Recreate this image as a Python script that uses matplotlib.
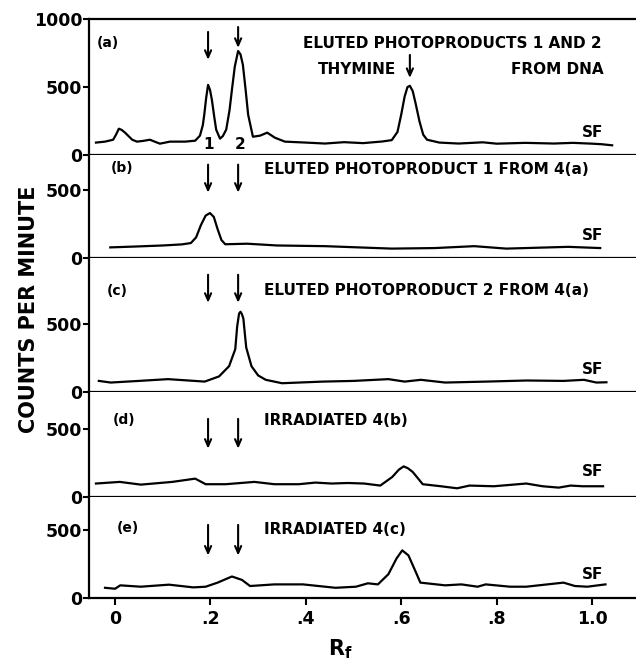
import matplotlib
matplotlib.use("Agg")
import matplotlib.pyplot as plt

# ---------------- data ----------------
rf_a = [-0.040, -0.021, -0.004, 0.002, 0.008, 0.014, 0.021, 0.036, 0.046, 0.060, 0.073, 0.094, 0.115,
        0.147, 0.168, 0.178, 0.184, 0.187, 0.191, 0.195, 0.199, 0.203, 0.208, 0.212, 0.220, 0.226,
        0.233, 0.240, 0.245, 0.251, 0.258, 0.263, 0.268, 0.274, 0.279, 0.289, 0.304, 0.319, 0.335,
        0.356, 0.400, 0.440, 0.480, 0.520, 0.560, 0.580, 0.592, 0.600, 0.607, 0.613, 0.618, 0.624,
        0.630, 0.638, 0.646, 0.654, 0.680, 0.720, 0.771, 0.800, 0.860, 0.920, 0.960, 1.000, 1.020, 1.042]
cpm_a = [92, 99, 113, 150, 194, 185, 165, 113, 99, 105, 113, 84, 99,
         99, 106, 143, 220, 296, 420, 516, 480, 406, 280, 187, 121, 140,
         187, 330, 480, 650, 765, 740, 663, 470, 297, 135, 143, 165, 128,
         99, 92, 85, 95, 88, 100, 110, 170, 300, 430, 500, 509, 470,
         380, 250, 150, 113, 92, 85, 94, 84, 90, 85, 90, 84, 80, 72]

rf_b = [-0.010, 0.040, 0.100, 0.140, 0.159, 0.170, 0.180, 0.190, 0.199, 0.207, 0.215, 0.223, 0.231,
        0.277, 0.340, 0.440, 0.580, 0.670, 0.753, 0.820, 0.900, 0.950, 1.017]
cpm_b = [76, 82, 90, 98, 108, 150, 240, 310, 328, 300, 210, 130, 99,
         103, 90, 85, 67, 71, 85, 67, 75, 80, 71]

rf_c = [-0.034, -0.009, 0.050, 0.111, 0.188, 0.218, 0.239, 0.252, 0.256, 0.260, 0.263, 0.266, 0.269,
        0.272, 0.275, 0.286, 0.300, 0.316, 0.350, 0.436, 0.500, 0.573, 0.607, 0.641, 0.692,
        0.778, 0.863, 0.940, 0.983, 1.009, 1.030]
cpm_c = [80, 68, 80, 93, 75, 113, 188, 313, 480, 575, 588, 570, 538,
         430, 325, 188, 120, 88, 63, 75, 80, 93, 75, 88, 68,
         75, 83, 80, 88, 68, 70]

rf_d = [-0.040, 0.010, 0.054, 0.120, 0.168, 0.190, 0.232, 0.292, 0.334, 0.385, 0.420, 0.454, 0.488,
        0.522, 0.556, 0.581, 0.595, 0.605, 0.614, 0.624, 0.645, 0.683, 0.717, 0.743, 0.794,
        0.862, 0.896, 0.930, 0.955, 0.980, 1.023]
cpm_d = [98, 110, 90, 110, 134, 93, 93, 110, 93, 93, 105, 98, 102,
         98, 83, 146, 200, 224, 210, 183, 93, 78, 63, 83, 78,
         98, 78, 68, 83, 78, 78]

rf_e = [-0.021, 0.000, 0.011, 0.054, 0.113, 0.164, 0.190, 0.215, 0.245, 0.266, 0.283, 0.334, 0.394,
        0.462, 0.505, 0.530, 0.551, 0.573, 0.590, 0.602, 0.615, 0.628, 0.640, 0.692, 0.726,
        0.760, 0.777, 0.828, 0.862, 0.940, 0.964, 0.990, 1.028]
cpm_e = [75, 68, 93, 83, 98, 78, 83, 113, 158, 133, 88, 100, 100,
         75, 83, 108, 100, 175, 290, 350, 313, 210, 113, 93, 100,
         83, 100, 83, 83, 113, 88, 83, 100]

panel_tags = ["(a)", "(b)", "(c)", "(d)", "(e)"]
panel_titles = ["ELUTED PHOTOPRODUCTS 1 AND 2", "ELUTED PHOTOPRODUCT 1 FROM 4(a)",
                "ELUTED PHOTOPRODUCT 2 FROM 4(a)", "IRRADIATED 4(b)", "IRRADIATED 4(c)"]
panel_tops = [1000, 754, 985, 772, 743]
arrow_rf = [0.195, 0.258]
xtick_vals = [0, 0.2, 0.4, 0.6, 0.8, 1.0]
xtick_labels = ["0", ".2", ".4", ".6", ".8", "1.0"]

series = [(rf_a, cpm_a), (rf_b, cpm_b), (rf_c, cpm_c), (rf_d, cpm_d), (rf_e, cpm_e)]

# arrow extents per panel (top, tip) in counts
arrow_spans = [[(905, 700), (941, 788)], [(684, 478), (684, 478)], [(860, 654), (860, 654)],
               [(573, 354), (573, 354)], [(537, 312), (537, 312)]]
tag_pos = [(-0.038, 824), (-0.010, 660), (-0.017, 743), (-0.005, 566), (0.004, 515)]
title_y = [817, 650, 743, 559, 500]
sf_y = [164, 162, 162, 184, 169]

# ---------------- figure ----------------
fig = plt.figure(figsize=(6.36, 6.66), dpi=100)
gs = fig.add_gridspec(5, 1, height_ratios=panel_tops, left=0.14, right=1.0,
                      top=1 - 19 / 666, bottom=1 - 598 / 666, hspace=0)
bold = dict(fontweight="bold", color="black")
txt_size = 11
for i, (xs, ys) in enumerate(series):
    ax = fig.add_subplot(gs[i])
    ax.plot(xs, ys, color="black", lw=1.6)
    ax.set_xlim(-0.0545, 1.092)
    ax.set_ylim(0, panel_tops[i])
    ax.spines["right"].set_visible(False)
    if i != 0:
        ax.spines["top"].set_visible(False)
    for s in ["left", "bottom", "top"]:
        ax.spines[s].set_linewidth(1.6)
    if i == 0:
        ax.set_yticks([0, 500, 1000])
        ax.set_yticklabels(["0", "500", "1000"])
    else:
        ax.set_yticks([0, 500])
        ax.set_yticklabels(["0", "500"])
    if i == 4:
        ax.set_xticks(xtick_vals)
        ax.set_xticklabels(xtick_labels)
    else:
        ax.set_xticks([0, 1.0])
        ax.set_xticklabels([])
    ax.tick_params(axis="y", direction="out", length=4, width=1.5, labelsize=12.5, pad=1)
    ax.tick_params(axis="x", direction="out", length=5, width=1.5, labelsize=12.5, pad=4)
    for lab in ax.get_yticklabels() + ax.get_xticklabels():
        lab.set_fontweight("bold")
    # arrows
    for xr, (top, tip) in zip(arrow_rf, arrow_spans[i]):
        ax.annotate("", xy=(xr, tip), xytext=(xr, top),
                    arrowprops=dict(arrowstyle="->,head_length=0.5,head_width=0.22",
                                    lw=1.5, color="black", shrinkA=0, shrinkB=0))
    ax.text(tag_pos[i][0], tag_pos[i][1], panel_tags[i], fontsize=10, va="center", ha="left", **bold)
    if i == 0:
        ax.text(1.02, title_y[i], panel_titles[i], fontsize=txt_size, va="center", ha="right", **bold)
        ax.text(1.025, 626, "FROM DNA", fontsize=txt_size, va="center", ha="right", **bold)
        ax.text(0.59, 626, "THYMINE", fontsize=txt_size, va="center", ha="right", **bold)
        ax.annotate("", xy=(0.618, 567), xytext=(0.618, 736),
                    arrowprops=dict(arrowstyle="->,head_length=0.5,head_width=0.22",
                                    lw=1.5, color="black", shrinkA=0, shrinkB=0))
        ax.text(0.195, 76, "1", fontsize=txt_size, va="center", ha="center", **bold)
        ax.text(0.262, 76, "2", fontsize=txt_size, va="center", ha="center", **bold)
    else:
        ax.text(0.313, title_y[i], panel_titles[i], fontsize=txt_size, va="center", ha="left", **bold)
    ax.text(1.0, sf_y[i], "SF", fontsize=txt_size, va="center", ha="center", **bold)

fig.text(0.045, 0.535, "COUNTS PER MINUTE", rotation=90, fontsize=15, fontweight="bold",
         ha="center", va="center")
fig.text(0.535, 0.025, r"$\mathbf{R_f}$", fontsize=15, ha="center", va="center")

fig.savefig("out.png", dpi=100)
